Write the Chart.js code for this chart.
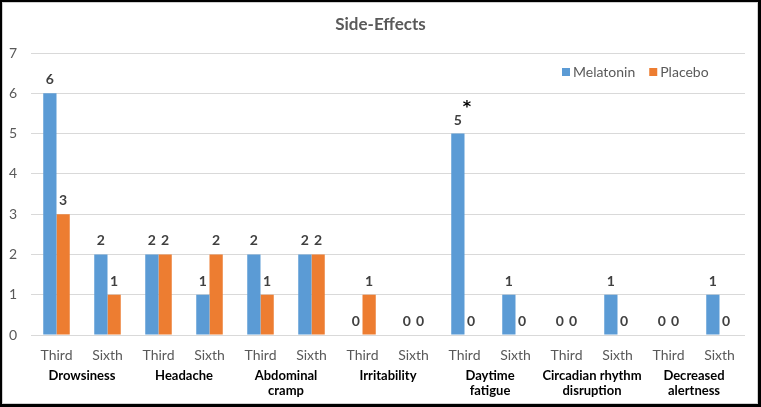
<!DOCTYPE html>
<html>
<head>
<meta charset="utf-8">
<script src="https://cdn.jsdelivr.net/npm/chart.js@4/dist/chart.umd.min.js"></script>
<style>
html,body{margin:0;padding:0;background:#fff;}
#wrap{position:relative;width:761px;height:407px;}
</style>
</head>
<body>
<div id="wrap"><canvas id="c"></canvas></div>
<script>
// ---- data ----
const chartTitle = 'Side-Effects';
const timepoints = ['Third','Sixth','Third','Sixth','Third','Sixth','Third','Sixth','Third','Sixth','Third','Sixth','Third','Sixth'];
const groups = ['Drowsiness','Headache',['Abdominal','cramp'],'Irritability',['Daytime','fatigue'],['Circadian rhythm','disruption'],['Decreased','alertness']];
const melatonin = [6,2,2,1,2,2,0,0,5,1,0,1,0,1];
const placebo   = [3,1,2,2,1,2,1,0,0,0,0,0,0,0];
const yTicks = [0,1,2,3,4,5,6,7];
const significant = [{dataset:0, index:8, mark:'*'}];

const BLUE = '#5B9BD5', ORANGE = '#ED7D31', GREY = '#595959';
const FONT = 'Lato, "Open Sans", sans-serif';

const framePlugin = {
  id:'frame',
  beforeDraw(chart){
    const c = chart.ctx;
    c.save(); c.fillStyle='#fff'; c.fillRect(0,0,chart.width,chart.height); c.restore();
  },
  afterDraw(chart){
    const c = chart.ctx, W = chart.width, H = chart.height;
    c.save();
    c.fillStyle = '#000';
    c.fillRect(0,0,W,2); c.fillRect(0,0,2,H);
    c.fillRect(W-3,0,3,H); c.fillRect(0,H-3,W,3);
    c.strokeStyle = '#d0d0d0'; c.lineWidth = 1;
    c.strokeRect(2.5,2.5,W-6,H-6);
    // title
    c.font = 'bold 17px ' + FONT;
    c.fillStyle = GREY;
    c.textAlign = 'center'; c.textBaseline = 'middle';
    c.fillText(chartTitle, 380.5, 25);
    // legend
    c.font = '14px ' + FONT;
    c.textBaseline = 'middle'; c.textAlign = 'left';
    let x = 562; const y = 72;
    chart.data.datasets.forEach(ds => {
      c.fillStyle = ds.backgroundColor;
      c.fillRect(x, y-4, 8, 8);
      c.fillStyle = GREY;
      c.fillText(ds.label, x+11, y);
      x += 11 + c.measureText(ds.label).width + 14;
    });
    c.restore();
  }
};

const labelPlugin = {
  id:'vlabels',
  afterDatasetsDraw(chart){
    const c = chart.ctx;
    c.save();
    c.font = 'bold 14px ' + FONT;
    c.fillStyle = '#404040';
    c.textAlign = 'center'; c.textBaseline = 'middle';
    chart.data.datasets.forEach((ds, di) => {
      const meta = chart.getDatasetMeta(di);
      meta.data.forEach((bar, i) => {
        c.fillText(String(ds.data[i]), bar.x, bar.y - 13.5);
      });
    });
    c.font = 'bold 16px "DejaVu Sans", sans-serif';
    c.fillStyle = '#000';
    c.textBaseline = 'alphabetic';
    significant.forEach(s => {
      const bar = chart.getDatasetMeta(s.dataset).data[s.index];
      c.fillText(s.mark, bar.x + 9, bar.y - 22);
    });
    c.restore();
  }
};

new Chart(document.getElementById('c'), {
  type:'bar',
  data:{
    labels: timepoints,
    datasets:[
      {label:'Melatonin', data: melatonin, backgroundColor: BLUE, categoryPercentage:0.52, barPercentage:1, xAxisID:'x'},
      {label:'Placebo', data: placebo, backgroundColor: ORANGE, categoryPercentage:0.52, barPercentage:1, xAxisID:'x'}
    ]
  },
  options:{
    responsive:true, maintainAspectRatio:false, animation:false, devicePixelRatio:1,
    layout:{padding:{left:0,right:16,top:53,bottom:0}},
    plugins:{
      legend:{display:false},
      tooltip:{enabled:false},
      title:{display:false}
    },
    scales:{
      y:{
        min:0, max:7,
        afterFit(s){ s.width = 31; },
        afterBuildTicks(s){ s.ticks = yTicks.map(v => ({value:v})); },
        ticks:{color:GREY, font:{family:FONT, size:14}, padding:14},
        grid:{color:'#D9D9D9', drawTicks:false, lineWidth:1},
        border:{display:false}
      },
      x:{
        type:'category', offset:true, weight:0,
        afterFit(s){ s.height = 30; },
        ticks:{color:GREY, font:{family:FONT, size:14, lineHeight:1.2}, padding:12, autoSkip:false, maxRotation:0},
        grid:{display:false, drawTicks:false},
        border:{display:false}
      },
      x2:{
        type:'category', position:'bottom', labels: groups, offset:true, weight:1,
        afterFit(s){ s.height = 42; },
        ticks:{color:'#000', font:{family:FONT, size:13, weight:'bold', lineHeight:1.15}, padding:3.5, autoSkip:false, maxRotation:0},
        grid:{display:false, drawTicks:false},
        border:{display:false}
      }
    }
  },
  plugins:[framePlugin, labelPlugin]
});
</script>
</body>
</html>
